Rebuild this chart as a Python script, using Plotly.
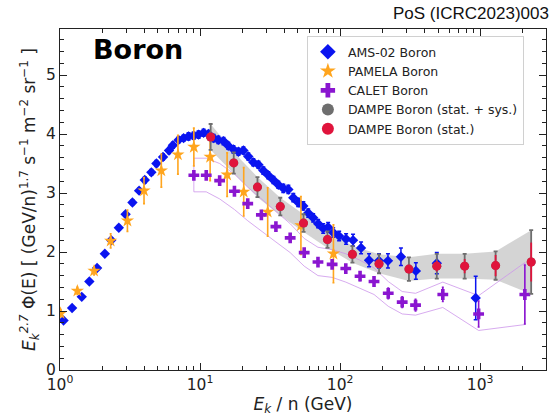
import plotly.graph_objects as go

# ---------------- data ----------------
# AMS-02 boron flux x E^2.7
ams_e = [1.06, 1.22, 1.43, 1.62, 1.84, 2.09, 2.32, 2.63, 2.94, 3.29, 3.67, 4.03, 4.49,
         4.88, 5.44, 6.00, 6.40, 7.03, 7.63, 8.28, 8.99, 9.76, 10.6, 11.5, 12.5, 13.5,
         14.7, 15.9, 17.3, 18.8, 20.4, 22.1, 24.0, 26.1, 28.3, 30.7, 33.4, 36.2, 39.3,
         42.7, 46.3, 50.2, 54.6, 59.2, 64.2, 69.7, 75.7, 82.1, 89.2, 98.4, 110.3, 123.7,
         141.1, 160.9, 189.5, 219.6, 271.8, 347.5, 490.2, 929.0]
ams_y = [0.84, 1.05, 1.24, 1.50, 1.73, 1.97, 2.20, 2.41, 2.64, 2.84, 3.04, 3.22, 3.35,
         3.50, 3.61, 3.72, 3.81, 3.90, 3.93, 3.96, 3.97, 3.99, 4.02, 4.00, 3.93, 3.90,
         3.88, 3.80, 3.74, 3.70, 3.72, 3.62, 3.52, 3.48, 3.38, 3.30, 3.22, 3.14, 3.08,
         3.06, 2.92, 2.84, 2.78, 2.66, 2.58, 2.48, 2.40, 2.42, 2.33, 2.27, 2.22, 2.20,
         2.07, 1.86, 1.85, 1.85, 1.92, 1.68, 1.81, 1.22]
ams_err = [0.03, 0.03, 0.03, 0.03, 0.03, 0.03, 0.04, 0.04, 0.04, 0.04, 0.04, 0.05, 0.05,
           0.05, 0.05, 0.05, 0.05, 0.05, 0.05, 0.06, 0.06, 0.06, 0.06, 0.06, 0.06, 0.06,
           0.06, 0.06, 0.06, 0.06, 0.06, 0.06, 0.06, 0.06, 0.06, 0.06, 0.06, 0.06, 0.07,
           0.07, 0.07, 0.07, 0.07, 0.07, 0.07, 0.07, 0.08, 0.08, 0.08, 0.08, 0.09, 0.10,
           0.10, 0.11, 0.12, 0.12, 0.15, 0.14, 0.18, 0.37]

# PAMELA boron
pam_e = [1.01, 1.33, 1.75, 2.30, 3.03, 3.98, 5.29, 6.95, 9.03, 11.8, 15.6, 20.5, 30.4, 52.5, 89.6]
pam_y = [0.96, 1.34, 1.68, 2.19, 2.53, 3.04, 3.38, 3.65, 3.78, 3.61, 3.31, 3.02, 2.68, 2.45, 1.97]
pam_err = [0.06, 0.06, 0.07, 0.12, 0.18, 0.22, 0.28, 0.33, 0.32, 0.40, 0.37, 0.41, 0.41, 0.49, 0.49]

# CALET boron (statistical error and total uncertainty envelope)
cal_e = [9.03, 11.07, 13.8, 17.6, 21.9, 27.4, 34.8, 44.0, 55.4, 69.5, 87.7, 109.8,
         138.8, 174.6, 220.6, 277.5, 345.6, 541.0, 975.0, 2084.0]
cal_y = [3.30, 3.30, 3.21, 3.03, 2.82, 2.63, 2.43, 2.24, 1.99, 1.83, 1.79, 1.72,
         1.59, 1.50, 1.30, 1.15, 1.10, 1.28, 0.95, 1.28]
cal_err = [0.03, 0.03, 0.03, 0.03, 0.03, 0.04, 0.04, 0.04, 0.05, 0.05, 0.05, 0.06,
           0.07, 0.08, 0.09, 0.09, 0.10, 0.12, 0.22, 0.50]
cal_hi = [3.59, 3.59, 3.50, 3.32, 3.10, 2.90, 2.68, 2.48, 2.23, 2.08, 2.04, 1.97,
          1.86, 1.73, 1.50, 1.33, 1.30, 1.49, 1.26, 1.82]
cal_lo = [3.02, 3.02, 2.90, 2.72, 2.53, 2.35, 2.17, 1.99, 1.76, 1.60, 1.57, 1.49,
          1.38, 1.28, 1.08, 0.95, 0.93, 1.06, 0.67, 0.77]

# DAMPE boron
dam_e = [11.9, 17.4, 25.7, 37.4, 54.8, 81.2, 122.4, 189.6, 310.0, 490.0, 775.0, 1289.0, 2313.0]
dam_y = [3.95, 3.51, 3.10, 2.77, 2.49, 2.21, 1.96, 1.80, 1.71, 1.76, 1.76, 1.77, 1.83]
dam_stat = [0.04, 0.04, 0.04, 0.04, 0.04, 0.04, 0.05, 0.05, 0.07, 0.09, 0.12, 0.18, 0.33]
dam_tot = [0.22, 0.18, 0.17, 0.15, 0.15, 0.14, 0.14, 0.16, 0.20, 0.21, 0.21, 0.24, 0.54]

# axis ticks
x_major = [1, 10, 100, 1000]
x_major_text = ["10<sup>0</sup>", "10<sup>1</sup>", "10<sup>2</sup>", "10<sup>3</sup>"]
x_minor = [m * d for d in (1, 10, 100, 1000) for m in range(2, 10)]
y_major = [0, 1, 2, 3, 4, 5]
y_minor = [i / 5 for i in range(0, 29)]

# ---------------- figure ----------------
FONT = "DejaVu Sans"
fig = go.Figure()

# DAMPE total-uncertainty band
band_hi = [v + t for v, t in zip(dam_y, dam_tot)]
band_lo = [v - t for v, t in zip(dam_y, dam_tot)]
fig.add_trace(go.Scatter(
    x=dam_e + dam_e[::-1], y=band_hi + band_lo[::-1],
    fill="toself", fillcolor="rgba(204,204,204,0.85)", line=dict(width=0),
    mode="lines", showlegend=False, hoverinfo="skip"))

# CALET uncertainty envelope (outline only)
fig.add_trace(go.Scatter(
    x=cal_e + cal_e[::-1] + [cal_e[0]], y=cal_hi + cal_lo[::-1] + [cal_hi[0]],
    mode="lines", line=dict(color="rgba(205,150,235,0.8)", width=1),
    showlegend=False, hoverinfo="skip"))

fig.add_trace(go.Scatter(
    x=ams_e, y=ams_y, mode="markers", name="AMS-02 Boron",
    marker=dict(symbol="diamond", size=8, color="#0a14f0"),
    error_y=dict(type="data", array=ams_err, color="#0a14f0", thickness=1.5, width=2)))

fig.add_trace(go.Scatter(
    x=pam_e, y=pam_y, mode="markers", name="PAMELA Boron",
    marker=dict(symbol="star", size=10, color="#ffa51e"),
    error_y=dict(type="data", array=pam_err, color="#ffa51e", thickness=1.6, width=1)))

fig.add_trace(go.Scatter(
    x=cal_e, y=cal_y, mode="markers", name="CALET Boron",
    marker=dict(symbol="cross", size=9, color="#8a16d0"),
    error_y=dict(type="data", array=cal_err, color="#8a16d0", thickness=1.6, width=1)))

fig.add_trace(go.Scatter(
    x=dam_e, y=dam_y, mode="markers", name="DAMPE Boron (stat. + sys.)",
    marker=dict(symbol="circle", size=9, color="#6e6e6e"),
    error_y=dict(type="data", array=dam_tot, color="#6e6e6e", thickness=1.8, width=2)))

fig.add_trace(go.Scatter(
    x=dam_e, y=dam_y, mode="markers", name="DAMPE Boron (stat.)",
    marker=dict(symbol="circle", size=9, color="#e0143c"),
    error_y=dict(type="data", array=dam_stat, color="#e0143c", thickness=1.8, width=0)))

axis_common = dict(
    showgrid=False, zeroline=False, showline=True, linecolor="#222222", linewidth=1.3,
    mirror="allticks", ticks="inside", tickcolor="#222222", tickwidth=1.2, ticklen=7,
    tickfont=dict(family=FONT, size=15.5, color="#222222"),
)

fig.update_xaxes(
    type="log", range=[0, 3.47],
    tickvals=x_major, ticktext=x_major_text,
    minor=dict(tickvals=x_minor, ticks="inside", ticklen=4, tickwidth=1, tickcolor="#222222"),
    title=dict(text="<i>E<sub>k</sub></i> / n (GeV)", font=dict(family=FONT, size=17, color="#222222"),
               standoff=3),
    **axis_common)

fig.update_yaxes(
    range=[0, 5.78], tickvals=y_major,
    minor=dict(tickvals=y_minor, ticks="inside", ticklen=4, tickwidth=1, tickcolor="#222222"),
    title=dict(text="<i>E<sub>k</sub><sup>2.7</sup></i> Φ(E) [ (GeV/n)<sup>1.7</sup> s<sup>−1</sup> m<sup>−2</sup> sr<sup>−1</sup> ]",
               font=dict(family=FONT, size=17, color="#222222"), standoff=5),
    **axis_common)

fig.add_annotation(text="<b>Boron</b>", xref="paper", yref="paper", x=0.064, y=0.94,
                   xanchor="left", yanchor="middle", showarrow=False,
                   font=dict(family=FONT, size=27, color="black"))
fig.add_annotation(text="PoS (ICRC2023)003", xref="paper", yref="paper", x=1.0105, y=1.044,
                   xanchor="right", yanchor="middle", showarrow=False,
                   font=dict(family="Liberation Sans", size=17, color="#111111"))

fig.update_layout(
    width=555, height=417, margin=dict(l=60, r=9, t=29, b=47),
    plot_bgcolor="white", paper_bgcolor="white",
    legend=dict(x=0.508, y=0.979, xanchor="left", yanchor="top",
                bgcolor="rgba(255,255,255,0.9)", bordercolor="#d0d0d0", borderwidth=1,
                font=dict(family=FONT, size=12.5, color="#222222"), tracegroupgap=0,
                itemsizing="constant"),
    showlegend=True,
)

fig.write_html("out.html")
